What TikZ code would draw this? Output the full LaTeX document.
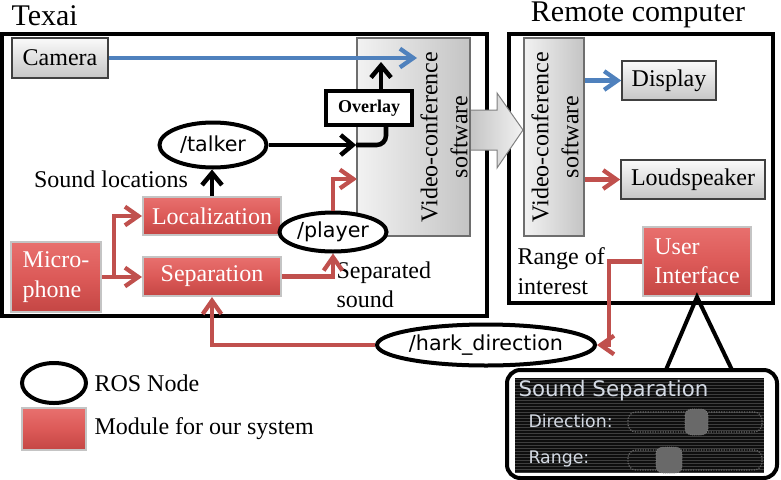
\documentclass[tikz,border=0pt]{standalone}
\usepackage{fontspec}
\setmainfont{Liberation Serif}
\newfontfamily\rosfont{DejaVu Sans}
\usetikzlibrary{shapes.geometric,arrows.meta}

\definecolor{modred}{RGB}{220,90,88}
\definecolor{modredtop}{RGB}{232,112,110}
\definecolor{modredbot}{RGB}{196,70,68}
\definecolor{modedge}{RGB}{196,196,196}
\definecolor{devtop}{RGB}{250,250,250}
\definecolor{devbot}{RGB}{198,198,198}
\definecolor{devedge}{RGB}{64,64,64}
\definecolor{vcleft}{RGB}{242,242,242}
\definecolor{vcright}{RGB}{196,196,196}
\definecolor{vcedge}{RGB}{110,110,110}
\definecolor{linkred}{RGB}{192,80,77}
\definecolor{linkblue}{RGB}{79,129,189}
\definecolor{panelbg}{RGB}{14,14,14}
\definecolor{panelline}{RGB}{62,62,62}
\definecolor{paneltext}{RGB}{212,218,228}
\definecolor{knobgray}{RGB}{105,105,105}

\tikzset{every picture/.style={line width=0.75pt}}
\tikzset{
  modbox/.style={rectangle, draw=modedge, line width=1.5pt, top color=modredtop, bottom color=modredbot, middle color=modred, text=white, font=\fontsize{18}{22}\selectfont, inner sep=0pt},
  devbox/.style={rectangle, draw=devedge, line width=1.2pt, top color=devtop, bottom color=devbot, font=\fontsize{18}{22}\selectfont, inner sep=0pt},
  vcbox/.style={rectangle, draw=vcedge, line width=1.2pt, left color=vcleft, right color=vcright, inner sep=0pt},
  vclabel/.style={rotate=90, align=center, font=\fontsize{18}{22.5}\selectfont, inner sep=0pt},
  rosnode/.style={ellipse, draw, line width=3pt, fill=white, font=\rosfont\fontsize{15.5}{18}\selectfont, inner sep=0pt},
  overlaybox/.style={rectangle, draw, line width=3pt, fill=white, font=\fontsize{13.5}{15}\selectfont\bfseries, inner sep=0pt},
  lbl/.style={align=left, font=\fontsize{18}{22}\selectfont, inner sep=0pt},
  title/.style={font=\fontsize{22.5}{26}\selectfont, inner sep=0pt},
  redlink/.style={draw=linkred, line width=3.2pt, -{Straight Barb[length=10pt,width=14pt]}},
  bluelink/.style={draw=linkblue, line width=3.2pt, -{Straight Barb[length=10pt,width=14pt]}},
  blacklink/.style={draw=black, line width=3.4pt, -{Straight Barb[length=9pt,width=15pt]}},
  uititle/.style={text=paneltext, font=\rosfont\fontsize{16}{18}\selectfont, inner sep=0pt},
  uilabel/.style={text=paneltext, font=\rosfont\fontsize{13}{15}\selectfont, inner sep=0pt},
  slidertrack/.style={draw=knobgray, line width=0.9pt, densely dotted, rounded corners=6pt},
  sliderknob/.style={fill=knobgray, draw=gray, line width=0.6pt, densely dotted, rounded corners=5pt}
}

\begin{document}
\begin{tikzpicture}[x=0.75pt,y=0.75pt,yscale=-1,xscale=1]
	\useasboundingbox (0,0) rectangle (781,479);

	% Text Node
	\node[title, anchor=west] (texaititle) at (11,16) {Texai};
	% Text Node
	\node[title] (remotetitle) at (638,15) {Remote computer};

	%Shape: Rectangle
	\draw[line width=3pt] (2,34) rectangle (487,316);
	%Shape: Rectangle
	\draw[line width=3pt] (509,34) rectangle (773,303);

	%Shape: Right Arrow
	\draw[draw=gray, line width=0.75pt, left color=vcright, right color=vcleft] (470,110) -- (497,110) -- (497,93) -- (523,130) -- (497,168) -- (497,150) -- (470,150) -- cycle;

	% Texai side
	\node[devbox, minimum width=72pt, minimum height=30pt] (camera) at (60,58) {Camera};
	\node[vcbox, minimum width=84.75pt, minimum height=148.5pt] (vcl) at (413.5,137) {};
	\node[vclabel] (vcltext) at (444,137) {Video-conference\\software};
	\node[overlaybox, minimum width=64.5pt, minimum height=25.5pt] (overlay) at (369,108) {Overlay};
	\node[rosnode, minimum width=80.25pt, minimum height=33.75pt] (talker) at (213,145) {/talker};
	\node[modbox, minimum width=103.5pt, minimum height=28.5pt] (loc) at (212,216) {Localization};
	\node[modbox, minimum width=103.5pt, minimum height=29.25pt] (sep) at (212,276.5) {Separation};
	\node[modbox, minimum width=67.5pt, minimum height=52.5pt, align=left] (mic) at (56,277) {Micro-\\phone};
	\node[rosnode, minimum width=80.25pt, minimum height=29.25pt] (player) at (333,232) {/player};
	\node[lbl] (soundloc) at (111,179) {Sound locations};
	\node[lbl, anchor=west] (sepsound) at (336,285) {Separated\\sound};

	\coordinate (camin) at (417,58);
	\coordinate (ovout) at (381,62);
	\coordinate (ovin) at (386,125);
	\coordinate (plin) at (357,179);

	\draw[bluelink] (camera.east) -- (camin);
	\draw[blacklink] (overlay.north -| ovout) -- (ovout);
	\draw[blacklink] (talker.east) -- (talker.east -| vcl.west);
	\draw[line width=3.4pt, rounded corners=7pt] (talker.east -| vcl.west) -| (ovin);
	\draw[blacklink] (loc.north) -- (loc.north |- talker.south);
	\draw[redlink] (mic.east) -- (mic.east -| sep.west);
	\draw[redlink] ([xshift=9pt]mic.east) |- (loc.west);
	\draw[redlink] (sep.east) -| (player.south);
	\draw[redlink] (player.north) |- (plin);

	% Remote side
	\node[vcbox, minimum width=45pt, minimum height=148.5pt] (vcr) at (554,137) {};
	\node[vclabel] (vcrtext) at (555,137) {Video-conference\\software};
	\node[devbox, minimum width=70.5pt, minimum height=29.25pt] (display) at (669,80.5) {Display};
	\node[devbox, minimum width=108pt, minimum height=29.25pt] (speaker) at (693,179.5) {Loudspeaker};
	\node[modbox, minimum width=81pt, minimum height=51.75pt, align=left] (ui) at (697,261.5) {User\\Interface};
	\node[lbl, anchor=west] (range) at (517,271) {Range of\\interest};

	\draw[bluelink] (vcr.east |- display.west) -- (display.west);
	\draw[redlink] (vcr.east |- speaker.west) -- (speaker.west);

	% feedback to separation
	\node[rosnode, minimum width=137.25pt, minimum height=30.75pt] (hark) at (486,345) {/hark\_direction};
	\coordinate (uiturn) at (609,0);
	\draw[redlink] (ui.west) -- (ui.west -| uiturn) |- (hark.east);
	\draw[redlink] (hark.west) -| (sep.south);

	%Shape: Callout
	\draw[line width=3pt] (665,372) -- (ui.south) -- (733,372);
	\draw[line width=3pt, rounded corners=10pt, fill=white] (507,370) rectangle (777,478);
	\fill[panelbg] (515,378) rectangle (764,473);
	\foreach \y in {379,382,...,472}
		\draw[panelline, line width=0.5pt] (515,\y) -- (764,\y);
	\node[uititle, anchor=west] (uipanel) at (518,391) {Sound Separation};
	\node[uilabel, anchor=west] (dirlabel) at (528,421) {Direction:};
	\node[uilabel, anchor=west] (rangelabel) at (528,459) {Range:};
	\draw[slidertrack] (628,412) rectangle (762,432);
	\draw[sliderknob] (685,409) rectangle (708,435);
	\draw[slidertrack] (628,450) rectangle (762,470);
	\draw[sliderknob] (656,447) rectangle (682,473);

	% Legend
	\node[rosnode, minimum width=48pt, minimum height=30pt] (legros) at (54,383) {};
	\node[lbl, anchor=west] (legrostext) at (94,383) {ROS Node};
	\node[modbox, minimum width=48pt, minimum height=31.5pt] (legmod) at (54,429) {};
	\node[lbl, anchor=west] (legmodtext) at (94,429) {Module for our system};

\end{tikzpicture}
\end{document}
